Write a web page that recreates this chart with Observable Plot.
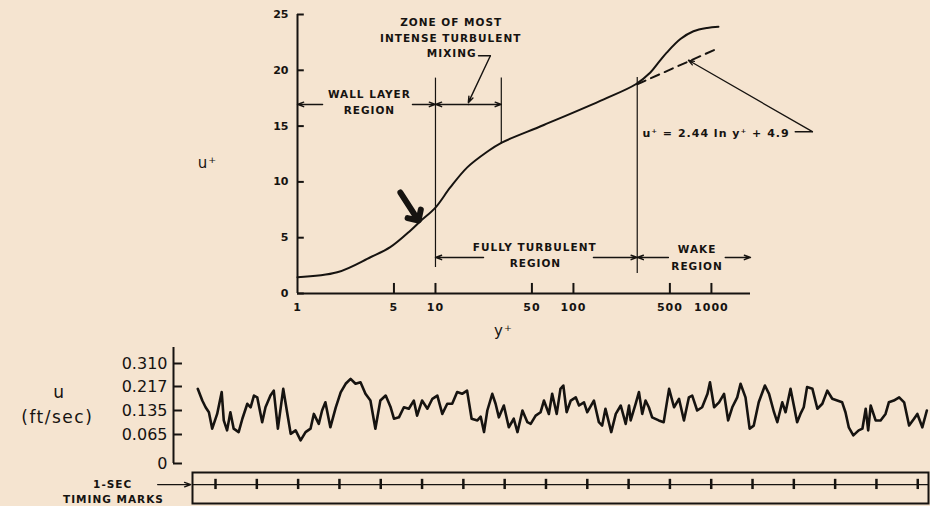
<!DOCTYPE html>
<html><head><meta charset="utf-8">
<script src="https://cdn.jsdelivr.net/npm/d3@7"></script>
<script src="https://cdn.jsdelivr.net/npm/@observablehq/plot@0.6"></script>
<style>
html,body{margin:0;padding:0;background:#f5e4d0;}
#wrap{position:relative;width:930px;height:506px;overflow:hidden;background:#f5e4d0;}
#wrap svg{position:absolute;left:0;}
</style></head><body><div id="wrap"></div>
<script>
// ---------- top panel: mean velocity profile u+ vs y+ ----------
const profileYPlus = [1, 1.94, 3.38, 4.7, 6.6, 7.8, 10, 12.8, 17, 23.7, 30, 61, 166, 283, 361, 414, 476, 596, 741, 931, 1125];
const profileUPlus = [1.46, 1.9, 3.25, 4.15, 5.65, 6.5, 7.7, 9.5, 11.3, 12.7, 13.5, 15.1, 17.4, 18.75, 19.8, 20.7, 21.6, 22.8, 23.5, 23.8, 23.9];
const logLawYPlus = [290, 1130];
const logLawUPlus = [18.75, 22.0];
const uPlusTicks = [0, 5, 10, 15, 20, 25];
const yPlusTicks = [1, 5, 10, 50, 100, 500, 1000];

// ---------- bottom panel: velocity trace u(t) ----------
const traceTime = [
 -0.43,-0.32,-0.24,-0.16,-0.08,0.04,0.15,0.20,0.28,0.36,
 0.44,0.56,0.65,0.77,0.85,0.93,1.01,1.13,1.21,1.33,
 1.41,1.51,1.64,1.74,1.82,1.94,2.06,2.18,2.30,2.38,
 2.50,2.58,2.66,2.78,2.91,3.03,3.15,3.27,3.39,3.51,
 3.63,3.75,3.87,3.99,4.12,4.24,4.32,4.44,4.56,4.68,
 4.80,4.88,5.00,5.13,5.25,5.37,5.49,5.61,5.73,5.85,
 5.97,6.09,6.20,6.34,6.42,6.50,6.58,6.70,6.78,6.86,
 6.98,7.10,7.22,7.31,7.43,7.55,7.63,7.75,7.87,7.95,
 8.07,8.15,8.26,8.35,8.42,8.50,8.60,8.72,8.80,8.92,
 9.00,9.16,9.28,9.36,9.44,9.58,9.69,9.81,9.93,10.01,
 10.05,10.17,10.25,10.33,10.41,10.49,10.57,10.73,10.85,10.98,
 11.10,11.22,11.34,11.46,11.54,11.66,11.78,11.91,11.97,12.07,
 12.19,12.31,12.41,12.51,12.63,12.71,12.83,12.93,13.03,13.15,
 13.30,13.40,13.52,13.60,13.72,13.80,13.92,14.00,14.08,14.16,
 14.24,14.32,14.45,14.57,14.69,14.81,14.93,15.05,15.17,15.25,
 15.33,15.44,15.57,15.66,15.74,15.80,15.86,15.98,16.10,16.22,
 16.30,16.42,16.55,16.67,16.79,16.91,16.99,17.11,17.22];
const traceU = [
 0.209,0.169,0.146,0.130,0.082,0.125,0.198,0.106,0.077,0.130,
 0.082,0.072,0.111,0.158,0.146,0.186,0.180,0.101,0.146,0.186,
 0.203,0.082,0.209,0.125,0.067,0.077,0.052,0.072,0.082,0.125,
 0.096,0.135,0.163,0.086,0.145,0.197,0.228,0.248,0.228,0.234,
 0.192,0.169,0.082,0.169,0.186,0.146,0.111,0.115,0.146,0.141,
 0.169,0.120,0.169,0.141,0.175,0.186,0.125,0.158,0.158,0.198,
 0.192,0.203,0.111,0.106,0.117,0.072,0.135,0.192,0.158,0.115,
 0.152,0.086,0.111,0.072,0.135,0.101,0.096,0.120,0.130,0.169,
 0.125,0.192,0.125,0.209,0.221,0.130,0.169,0.180,0.152,0.163,
 0.130,0.169,0.101,0.091,0.141,0.072,0.125,0.152,0.096,0.152,
 0.106,0.158,0.198,0.125,0.169,0.146,0.115,0.106,0.101,0.209,
 0.146,0.175,0.106,0.180,0.186,0.135,0.146,0.192,0.234,0.146,
 0.163,0.192,0.106,0.146,0.180,0.228,0.180,0.082,0.091,0.163,
 0.221,0.192,0.130,0.101,0.163,0.130,0.209,0.152,0.101,0.125,
 0.146,0.215,0.209,0.141,0.158,0.203,0.175,0.169,0.163,0.130,
 0.086,0.063,0.077,0.082,0.141,0.077,0.152,0.106,0.106,0.125,
 0.163,0.169,0.180,0.163,0.091,0.111,0.125,0.086,0.135];
const uTicks = [0, 0.065, 0.135, 0.217, 0.310];
const uTickLabels = ["0", "0.065", "0.135", "0.217", "0.310"];
// the recorder's calibration: tick heights above the zero line (non-linear in u)
const uTickHeights = [0, 29, 53, 77, 100];
const timingMarks = [0,1,2,3,4,5,6,7,8,9,10,11,12,13,14,15,16,17];

const ink = "#161310";
const profile = profileYPlus.map((y, i) => ({y, u: profileUPlus[i]}));
const logLaw = logLawYPlus.map((y, i) => ({y, u: logLawUPlus[i]}));
const n = Math.min(traceTime.length, traceU.length);
const trace = d3.range(n).map(i => ({t: traceTime[i], u: traceU[i]}));
const calib = d3.scaleLinear().domain(uTicks).range(uTickHeights);

const font = "DejaVu Sans";
const lab = (s, x, y, o = {}) => Plot.text([s], {x: () => x, y: () => y, text: d => d, fontSize: 10.5, fontWeight: "bold", fill: ink, ...o});
const arr = (x1, y1, x2, y2, o = {}) => Plot.arrow([0], {x1: () => x1, y1: () => y1, x2: () => x2, y2: () => y2, stroke: ink, strokeWidth: 1.4, headLength: 7, headAngle: 40, ...o});

const topPlot = Plot.plot({
  width: 930, height: 340,
  marginLeft: 297, marginRight: 180, marginTop: 14, marginBottom: 47,
  style: {background: "transparent", fontFamily: font, fontSize: "11px", fontWeight: "bold", color: ink},
  x: {type: "log", domain: [1, 1920], axis: null},
  y: {domain: [0, 25], ticks: uPlusTicks, tickSize: 0, tickPadding: 9, label: null},
  marks: [
    Plot.ruleX([1], {y1: 0, y2: 25, stroke: ink, strokeWidth: 2}),
    Plot.ruleY([0], {x1: 1, x2: 1920, stroke: ink, strokeWidth: 2}),
    Plot.ruleY(uPlusTicks, {x1: 1, x2: 1.12, stroke: ink, strokeWidth: 2}),
    Plot.ruleX(yPlusTicks.slice(1), {y1: 0, y2: 0.9, stroke: ink, strokeWidth: 2}),
    Plot.text(yPlusTicks, {x: d => d, y: () => 0, dy: 14, text: d => String(d), fontSize: 11, fontWeight: "bold", fill: ink}),
    // region boundaries
    Plot.ruleX([10], {y1: 2.33, y2: 19.3, stroke: ink, strokeWidth: 1.2}),
    Plot.ruleX([30], {y1: 13.4, y2: 19.3, stroke: ink, strokeWidth: 1.2}),
    Plot.ruleX([290], {y1: 1.79, y2: 19.35, stroke: ink, strokeWidth: 1.2}),
    // curves
    Plot.line(logLaw, {x: "y", y: "u", stroke: ink, strokeWidth: 2, strokeDasharray: "9,6"}),
    Plot.line(profile, {x: "y", y: "u", curve: "catmull-rom", stroke: ink, strokeWidth: 2}),
    // wall layer region
    arr(1.52, 16.94, 1, 16.94), arr(6.81, 16.94, 10, 16.94),
    lab("WALL LAYER", 3.32, 17.83), lab("REGION", 3.32, 16.4),
    // zone of mixing
    arr(17.3, 16.94, 10, 16.94), arr(17.3, 16.94, 30, 16.94),
    lab("ZONE OF MOST", 13.0, 24.3), lab("INTENSE TURBULENT", 12.9, 22.85), lab("MIXING", 13.1, 21.5),
    Plot.line([[20.5, 21.3], [25, 21.3]], {stroke: ink, strokeWidth: 1.4}),
    arr(25, 21.3, 17.3, 17.1),
    // fully turbulent region
    arr(22.3, 3.23, 10, 3.23), arr(139.6, 3.23, 290, 3.23),
    lab("FULLY TURBULENT", 52.4, 4.12), lab("REGION", 53, 2.69),
    // wake region
    arr(488, 3.23, 290, 3.23), arr(1260, 3.23, 1920, 3.23),
    lab("WAKE", 787, 3.94), lab("REGION", 787, 2.42),
    // log law label
    lab("u⁺ = 2.44 ln y⁺ + 4.9", 316, 14.34, {textAnchor: "start", fontSize: 11}),
    Plot.line([[4050, 14.5], [5395, 14.5]], {stroke: ink, strokeWidth: 1.4}),
    arr(5395, 14.5, 681, 20.9, {strokeWidth: 1.3}),
    // big arrow
    arr(5.57, 9.05, 7.53, 6.54, {strokeWidth: 6, headLength: 6, headAngle: 90}),
    // axis labels
    lab("u⁺", 0.223, 11.65, {fontSize: 15, fontWeight: "normal"}),
    lab("y⁺", 31.1, -3.4, {fontSize: 15, fontWeight: "normal"})
  ]
});
topPlot.style.top = "0px";
topPlot.querySelectorAll('g[aria-label="text"]').forEach(g => g.setAttribute("letter-spacing", "1"));

const midPlot = Plot.plot({
  width: 930, height: 134,
  marginLeft: 173, marginRight: 2, marginTop: 0, marginBottom: 11,
  style: {background: "transparent", fontFamily: font, fontSize: "16px", color: ink},
  x: {domain: [-1.017, 17.26], axis: null},
  y: {domain: [0, 123], ticks: uTickHeights, tickFormat: d => uTickLabels[uTickHeights.indexOf(d)], tickSize: 0, tickPadding: 6, label: null},
  marks: [
    Plot.ruleX([-1.017], {y1: 0, y2: 116, stroke: ink, strokeWidth: 2}),
    Plot.ruleY(uTicks, {y: d => calib(d), x1: -1.017, x2: -0.8, stroke: ink, strokeWidth: 2}),
    Plot.line(trace, {x: "t", y: d => calib(d.u), stroke: ink, strokeWidth: 2.6, strokeLinejoin: "round"}),
    Plot.text(["u"], {x: () => -3.78, y: () => 71, text: d => d, fontSize: 17, fill: ink}),
    Plot.text(["(ft/sec)"], {x: () => -3.83, y: () => 46, text: d => d, fontSize: 17, fill: ink})
  ]
});
midPlot.style.top = "340px";
midPlot.querySelectorAll('g[aria-label="text"]').forEach(g => g.setAttribute("letter-spacing", "1.5"));

const timingPlot = Plot.plot({
  width: 930, height: 38,
  marginLeft: 192, marginRight: 2, marginTop: 4, marginBottom: 3,
  style: {background: "transparent", fontFamily: font, color: ink},
  x: {domain: [-0.557, 17.26], axis: null},
  y: {domain: [0, 1], axis: null},
  marks: [
    Plot.frame({stroke: ink, strokeWidth: 2}),
    Plot.ruleY([0.61], {stroke: ink, strokeWidth: 1.4}),
    Plot.ruleX(timingMarks, {y1: 0.45, y2: 0.78, stroke: ink, strokeWidth: 2.5}),
    Plot.arrow([0], {x1: () => -1.40, y1: () => 0.61, x2: () => -0.6, y2: () => 0.61, stroke: ink, strokeWidth: 1.4, headLength: 7, headAngle: 40}),
    Plot.text(["1-SEC"], {x: () => -2.49, y: () => 0.61, text: d => d, fontSize: 10.5, fontWeight: "bold", fill: ink}),
    Plot.text(["TIMING MARKS"], {x: () => -2.47, y: () => 0.12, text: d => d, fontSize: 10.5, fontWeight: "bold", fill: ink})
  ]
});
timingPlot.style.top = "468px";
timingPlot.querySelectorAll('g[aria-label="text"]').forEach(g => g.setAttribute("letter-spacing", "1"));

const wrap = document.getElementById("wrap");
wrap.appendChild(topPlot);
wrap.appendChild(midPlot);
wrap.appendChild(timingPlot);
</script>
</body></html>
